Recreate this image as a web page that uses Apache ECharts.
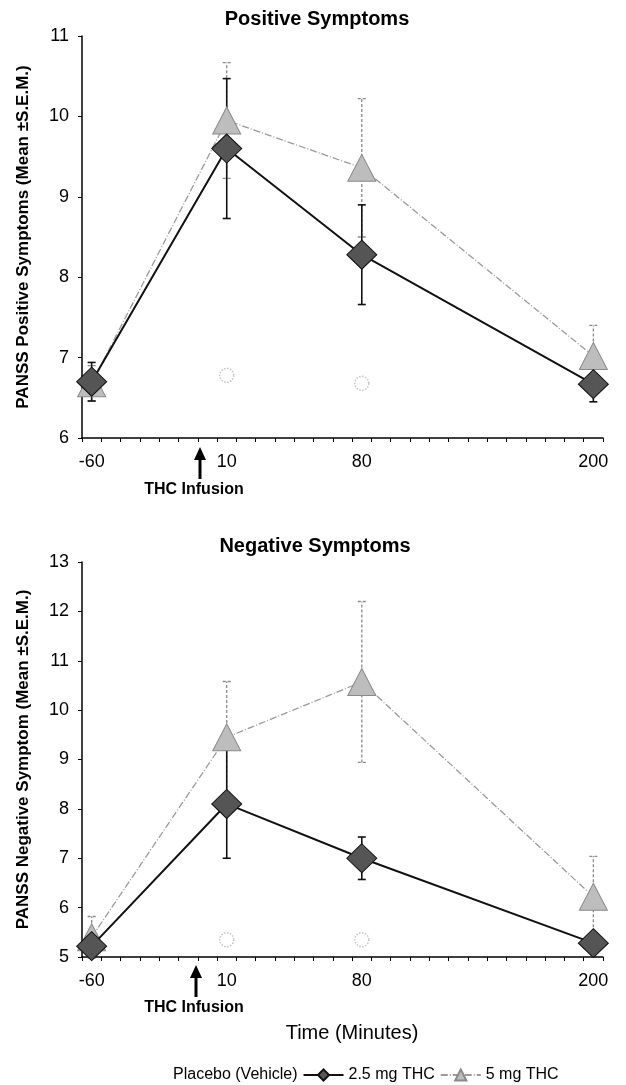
<!DOCTYPE html>
<html>
<head>
<meta charset="utf-8">
<script src="https://cdn.jsdelivr.net/npm/echarts@6/dist/echarts.min.js"></script>
<style>
  html, body { margin: 0; padding: 0; background: #fff; }
  #chart { width: 626px; height: 1085px; }
</style>
</head>
<body>
<div id="chart"></div>
<script>
// time axis: one slot every 10 minutes, labels only at the measured times
var timeSlots = ['-60', '-50', '-40', '-30', '-20', '-10', '0', '10', '20', '30', '40', '50', '60', '70',
  '80', '90', '100', '110', '120', '130', '140', '150', '160', '170', '180', '190', '200'];
var timeLabels = ['-60', '10', '80', '200'];
var times = ['-60', '10', '80', '200'];

// positive symptoms
var posPlacebo = [null, 6.78, 6.68, null];
var posLowDose = [6.70, 9.60, 8.28, 6.67];
var posLowDoseSem = [0.24, 0.87, 0.62, 0.22];
var posHighDose = [6.68, 9.95, 9.36, 7.02];
var posHighDoseSem = [0.22, 0.72, 0.86, 0.38];

// negative symptoms
var negPlacebo = [null, 5.35, 5.35, null];
var negLowDose = [5.22, 8.10, 7.00, 5.28];
var negLowDoseSem = [0.12, 1.10, 0.43, 0.10];
var negHighDose = [5.40, 9.45, 10.57, 6.22];
var negHighDoseSem = [0.42, 1.13, 1.63, 0.82];

var names = ['Placebo (Vehicle)', '2.5 mg THC', '5 mg THC'];
var font = 'Liberation Sans, Arial, sans-serif';

function pairs(vals) {
  var out = [];
  for (var i = 0; i < times.length; i++) {
    if (vals[i] != null) out.push([times[i], vals[i]]);
  }
  return out;
}
function bars(vals, sem) {
  return times.map(function (t, i) { return [t, vals[i] - sem[i], vals[i] + sem[i]]; });
}

function errorSeries(idx, data, color, dashed) {
  return {
    type: 'custom',
    xAxisIndex: idx, yAxisIndex: idx,
    z: 1,
    silent: true,
    data: data,
    encode: { x: 0, y: [1, 2] },
    renderItem: function (params, api) {
      var lo = api.coord([api.value(0), api.value(1)]);
      var hi = api.coord([api.value(0), api.value(2)]);
      var style = { stroke: color, lineWidth: dashed ? 1.3 : 1.6, lineDash: dashed ? [3, 2] : null };
      return {
        type: 'group',
        children: [
          { type: 'line', shape: { x1: lo[0], y1: lo[1], x2: hi[0], y2: hi[1] }, style: style },
          { type: 'line', shape: { x1: lo[0] - 4, y1: lo[1], x2: lo[0] + 4, y2: lo[1] }, style: style },
          { type: 'line', shape: { x1: hi[0] - 4, y1: hi[1], x2: hi[0] + 4, y2: hi[1] }, style: style }
        ]
      };
    }
  };
}

function lineSeries(idx, placebo, low, high) {
  return [
    {
      name: names[0], type: 'line', xAxisIndex: idx, yAxisIndex: idx, z: 2,
      data: pairs(placebo),
      symbol: 'circle', symbolSize: 14,
      itemStyle: { color: 'rgba(255,255,255,0)', borderColor: '#c4c4c4', borderWidth: 1.5, borderType: 'dotted' },
      lineStyle: { opacity: 0 }
    },
    {
      name: names[1], type: 'line', xAxisIndex: idx, yAxisIndex: idx, z: 4,
      data: pairs(low),
      symbol: 'diamond', symbolSize: [30, 29],
      itemStyle: { color: '#555', borderColor: '#111', borderWidth: 1 },
      lineStyle: { color: '#111', width: 2 }
    },
    {
      name: names[2], type: 'line', xAxisIndex: idx, yAxisIndex: idx, z: 3,
      data: pairs(high),
      symbol: 'triangle', symbolSize: [28, 27],
      itemStyle: { color: '#bdbdbd', borderColor: '#8a8a8a', borderWidth: 1 },
      lineStyle: { color: '#9a9a9a', width: 1.3, type: [7, 2, 1, 2] }
    }
  ];
}

function xAxis(idx) {
  return {
    type: 'category', gridIndex: idx, data: timeSlots, boundaryGap: true,
    axisLine: { lineStyle: { color: '#000', width: 1.5 } },
    axisTick: { show: true, interval: 0, length: 4, lineStyle: { color: '#000' } },
    axisLabel: {
      interval: function (i, v) { return timeLabels.indexOf(v) >= 0; },
      margin: 15, color: '#000', fontSize: 18, fontFamily: font
    },
    splitLine: { show: false }
  };
}
function yAxis(idx, min, max, name) {
  return {
    type: 'value', gridIndex: idx, min: min, max: max, interval: 1,
    name: name, nameLocation: 'middle', nameGap: 50,
    nameTextStyle: { color: '#000', fontSize: 17, fontWeight: 'bold', fontFamily: font },
    axisLine: { show: true, lineStyle: { color: '#000', width: 1.5 } },
    axisTick: { show: true, length: 4, lineStyle: { color: '#000' } },
    axisLabel: { color: '#000', fontSize: 18, fontFamily: font, margin: 13 },
    splitLine: { show: false }
  };
}

function arrow(x, y) {
  return [
    { type: 'rect', shape: { x: x - 1.5, y: y + 10, width: 3, height: 22 }, style: { fill: '#000' } },
    { type: 'polygon', shape: { points: [[x, y], [x - 6, y + 13], [x + 6, y + 13]] }, style: { fill: '#000' } }
  ];
}
function note(x, y, text, size, weight) {
  return {
    type: 'text', x: x, y: y,
    style: { text: text, fill: '#000', fontSize: size, fontWeight: weight, fontFamily: font, align: 'center', verticalAlign: 'middle' }
  };
}

var chart = echarts.init(document.getElementById('chart'));
var option = {
  backgroundColor: '#fff',
  animation: false,
  title: [
    { text: 'Positive Symptoms', left: 312, top: 4, textAlign: 'center',
      textStyle: { color: '#000', fontSize: 20, fontWeight: 'bold', fontFamily: font } },
    { text: 'Negative Symptoms', left: 310, top: 531, textAlign: 'center',
      textStyle: { color: '#000', fontSize: 20, fontWeight: 'bold', fontFamily: font } }
  ],
  legend: {
    data: [
      { name: names[0], itemStyle: { opacity: 0 }, lineStyle: { opacity: 0 } },
      names[1],
      names[2]
    ],
    left: 122, top: 1062, itemGap: 5, itemWidth: 40, itemHeight: 14,
    textStyle: { color: '#000', fontSize: 16, fontFamily: font }
  },
  grid: [
    { left: 82, top: 36, width: 521, height: 402 },
    { left: 82, top: 562, width: 521, height: 395 }
  ],
  xAxis: [xAxis(0), xAxis(1)],
  yAxis: [
    yAxis(0, 6, 11, 'PANSS Positive Symptoms (Mean \u00b1S.E.M.)'),
    yAxis(1, 5, 13, 'PANSS Negative Symptom (Mean \u00b1S.E.M.)')
  ],
  graphic: [].concat(
    arrow(200, 447),
    arrow(196, 965),
    [
      note(194, 490, 'THC Infusion', 16, 'bold'),
      note(194, 1008, 'THC Infusion', 16, 'bold'),
      note(352, 1033, 'Time (Minutes)', 20, 'normal')
    ]
  ),
  series: [].concat(
    [errorSeries(0, bars(posHighDose, posHighDoseSem), '#8a8a8a', true),
     errorSeries(0, bars(posLowDose, posLowDoseSem), '#111', false)],
    lineSeries(0, posPlacebo, posLowDose, posHighDose),
    [errorSeries(1, bars(negHighDose, negHighDoseSem), '#8a8a8a', true),
     errorSeries(1, bars(negLowDose, negLowDoseSem), '#111', false)],
    lineSeries(1, negPlacebo, negLowDose, negHighDose)
  )
};
chart.setOption(option);
</script>
</body>
</html>
